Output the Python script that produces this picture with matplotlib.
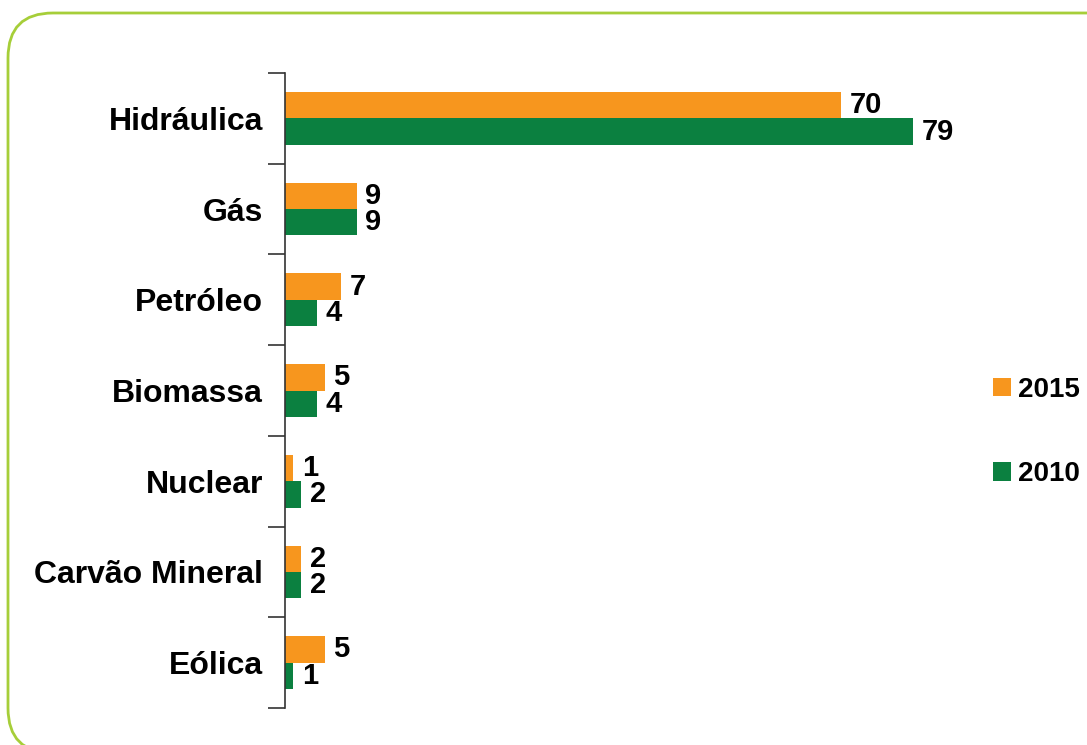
import numpy as np
import matplotlib.pyplot as plt
from matplotlib.patches import FancyBboxPatch

plt.rcParams['font.family'] = ['Liberation Sans', 'DejaVu Sans']
plt.rcParams['font.weight'] = 'bold'

# Dados
categorias = ['Hidráulica', 'Gás', 'Petróleo', 'Biomassa', 'Nuclear', 'Carvão Mineral', 'Eólica']
v2015 = [70, 9, 7, 5, 1, 2, 5]
v2010 = [79, 9, 4, 4, 2, 2, 1]

cor2015 = '#F7961E'
cor2010 = '#0B8040'

fig = plt.figure(figsize=(10.87, 7.45), dpi=100)

# Moldura arredondada (em polegadas)
borda = FancyBboxPatch((0.08, -0.08), 12, 7.40,
                       boxstyle='round,pad=0,rounding_size=0.45',
                       transform=fig.dpi_scale_trans, facecolor='none',
                       edgecolor='#A6CE39', linewidth=2, zorder=-1)
fig.patches.append(borda)

ax = fig.add_axes([285 / 1087, 1 - 708 / 745, (1000 - 285) / 1087, (708 - 73) / 745])
ax.patch.set_alpha(0)

y = np.arange(len(categorias))
h = 0.29
b1 = ax.barh(y - h / 2, v2015, height=h, color=cor2015, label='2015')
b2 = ax.barh(y + h / 2, v2010, height=h, color=cor2010, label='2010')

for barras in (b1, b2):
    for r in barras:
        ax.text(r.get_width() + 1.1, r.get_y() + r.get_height() / 2,
                f'{r.get_width():.0f}', va='center', ha='left',
                fontsize=21, fontweight='bold')

ax.set_xlim(0, 90)
ax.set_ylim(6.5, -0.5)
ax.set_xticks([])
ax.set_yticks(y)
ax.set_yticklabels(categorias, fontsize=23, fontweight='bold')
ax.tick_params(axis='y', which='major', length=0, pad=16)
ax.set_yticks(np.arange(-0.5, 7, 1), minor=True)
ax.tick_params(axis='y', which='minor', length=12, color='#333333', width=1.2)

for s in ['top', 'right', 'bottom']:
    ax.spines[s].set_visible(False)
ax.spines['left'].set_color('#333333')
ax.spines['left'].set_linewidth(1.2)

ax.legend(loc='center left', bbox_to_anchor=(979 / 1087, 1 - 432 / 745),
          bbox_transform=fig.transFigure, frameon=False, fontsize=20,
          labelspacing=2.1, handlelength=0.65, handleheight=0.65,
          handletextpad=0.25, borderpad=0)

plt.savefig('out.png', dpi=100)
